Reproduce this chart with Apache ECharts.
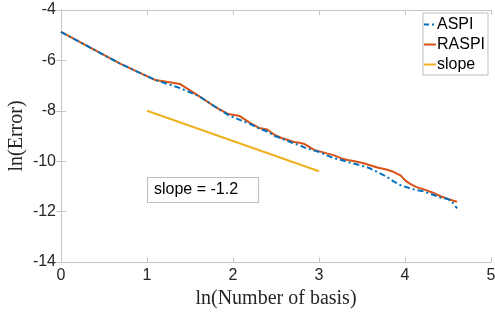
<!doctype html>
<html>
<head>
<meta charset="utf-8">
<script src="https://cdn.jsdelivr.net/npm/echarts@6/dist/echarts.min.js"></script>
<style>
  html, body { margin:0; padding:0; background:#fff; }
  #chart { width:495px; height:314px; }
</style>
</head>
<body>
<div id="chart"></div>
<script>
// basis counts n, plotted at ln(n)
const basisN = [1, 2, 3, 4, 5, 6, 7, 8, 9, 10, 11, 12, 13, 14, 15, 16, 17, 18, 19, 20,
  22, 24, 26, 28, 30, 33, 36, 40, 44, 48, 52, 55, 58, 62, 68, 75, 82, 90, 95, 100];
const aspiErr = [-4.87, -6.14, -6.78, -7.10, -7.43, -7.84, -8.17, -8.36, -8.52, -8.70, -8.82, -9.00, -9.10, -9.20, -9.30, -9.36, -9.46, -9.52, -9.58, -9.63,
  -9.77, -9.89, -9.95, -10.03, -10.09, -10.18, -10.27, -10.45, -10.61, -10.81, -10.96, -11.02, -11.08, -11.14, -11.20, -11.32, -11.44, -11.50, -11.64, -11.87];
const raspiErr = [-4.87, -6.14, -6.78, -6.94, -7.43, -7.84, -8.13, -8.21, -8.48, -8.68, -8.74, -8.96, -9.08, -9.16, -9.24, -9.27, -9.32, -9.44, -9.55, -9.60,
  -9.69, -9.77, -9.89, -9.95, -9.99, -10.06, -10.15, -10.26, -10.33, -10.43, -10.57, -10.78, -10.90, -11.02, -11.12, -11.24, -11.38, -11.50, -11.56, -11.61];
const slopeX = [1, 3];
const slopeY = [-8, -10.4];
const xTicks = [0, 1, 2, 3, 4, 5];
const yTicks = [-14, -12, -10, -8, -6, -4];

const lnN = basisN.map(n => Math.log(n));
const pairs = (xs, ys) => xs.map((x, i) => [x, ys[i]]);

const boxColor = '#c6c6c6';
const tickFont = { color: '#262626', fontSize: 16, fontFamily: 'Liberation Sans, Arial, sans-serif' };
const labelFont = { color: '#262626', fontSize: 20, fontFamily: 'Liberation Serif, Times New Roman, serif' };

const lineIcon = 'path://M0,0 L12,0 L12,2 L0,2 Z';
const dashDotIcon = 'path://M0,0 L5,0 L5,2 L0,2 Z M8,0 L10,0 L10,2 L8,2 Z M12,0 L12,2 L12,2 Z';

const xBase = {
  type: 'value', min: xTicks[0], max: xTicks[xTicks.length - 1], interval: 1,
  splitLine: { show: false },
  axisLine: { show: true, lineStyle: { color: boxColor } },
  axisTick: { show: true, inside: true, length: 5, lineStyle: { color: boxColor } }
};
const yBase = {
  type: 'value', min: yTicks[0], max: yTicks[yTicks.length - 1], interval: 2,
  splitLine: { show: false },
  axisLine: { show: true, lineStyle: { color: boxColor } },
  axisTick: { show: true, inside: true, length: 5, lineStyle: { color: boxColor } }
};

const chart = echarts.init(document.getElementById('chart'));
chart.setOption({
  animation: false,
  backgroundColor: '#fff',
  grid: { left: 61, right: 4, top: 10, bottom: 52, containLabel: false, outerBoundsMode: 'none' },
  xAxis: [
    Object.assign({}, xBase, {
      position: 'bottom',
      axisLabel: Object.assign({ margin: 6 }, tickFont),
      name: 'ln(Number of basis)', nameLocation: 'middle', nameGap: 27,
      nameTextStyle: labelFont
    }),
    Object.assign({}, xBase, { position: 'top', axisLabel: { show: false } })
  ],
  yAxis: [
    Object.assign({}, yBase, {
      position: 'left',
      axisLabel: Object.assign({ margin: 5 }, tickFont),
      name: 'ln(Error)', nameLocation: 'middle', nameGap: 34, nameMoveOverlap: false,
      nameTextStyle: labelFont
    }),
    Object.assign({}, yBase, { position: 'right', axisLabel: { show: false } })
  ],
  legend: {
    right: 7, top: 13, orient: 'vertical',
    backgroundColor: '#fff',
    borderColor: '#bdbdbd', borderWidth: 1, padding: [3, 3, 2, 1],
    itemWidth: 12, itemHeight: 2, itemGap: 3,
    textStyle: { color: '#000', fontSize: 16, fontFamily: 'Liberation Sans, Arial, sans-serif', padding: [0, 0, 0, -4], lineHeight: 17 },
    data: [
      { name: 'ASPI', icon: dashDotIcon },
      { name: 'RASPI', icon: lineIcon },
      { name: 'slope', icon: lineIcon }
    ]
  },
  graphic: [{
    type: 'text', left: 147, top: 177,
    style: {
      text: 'slope = -1.2', fill: '#000', fontSize: 16,
      fontFamily: 'Liberation Sans, Arial, sans-serif',
      backgroundColor: '#fff', borderColor: '#bdbdbd', borderWidth: 1,
      padding: [4, 20, 4, 6]
    }
  }],
  series: [
    {
      name: 'ASPI', type: 'line', data: pairs(lnN, aspiErr), symbol: 'none', z: 3,
      lineStyle: { color: '#0072BD', width: 2, type: [6, 3, 2, 3] },
      itemStyle: { color: '#0072BD' }
    },
    {
      name: 'RASPI', type: 'line', data: pairs(lnN, raspiErr), symbol: 'none', z: 2,
      lineStyle: { color: '#D95319', width: 2 },
      itemStyle: { color: '#D95319' }
    },
    {
      name: 'slope', type: 'line', data: pairs(slopeX, slopeY), symbol: 'none',
      lineStyle: { color: '#EDB120', width: 2 },
      itemStyle: { color: '#EDB120' }
    }
  ]
});
</script>
</body>
</html>
